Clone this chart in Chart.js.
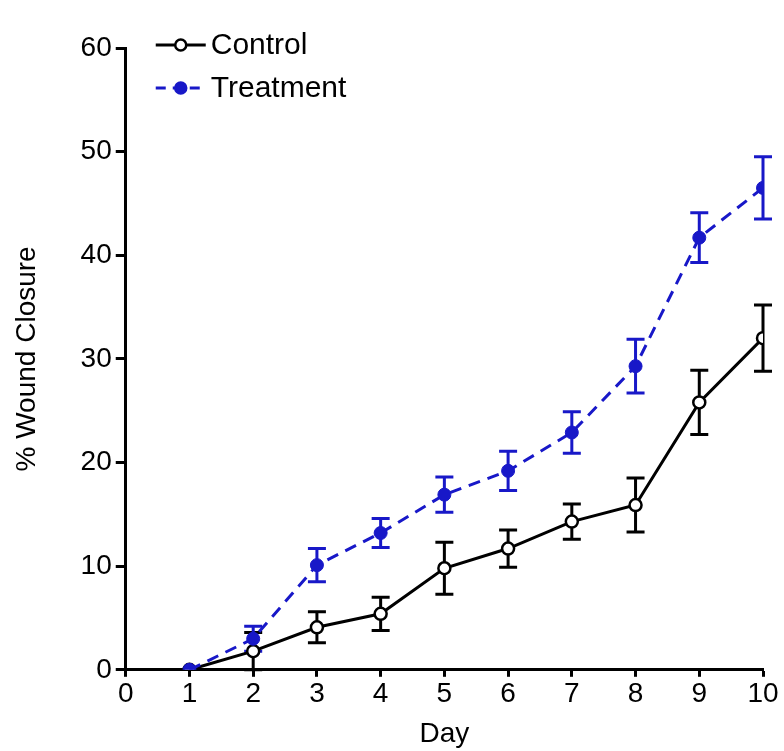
<!DOCTYPE html>
<html>
<head>
<meta charset="utf-8">
<script src="https://cdn.jsdelivr.net/npm/chart.js@4.4.0/dist/chart.umd.min.js"></script>
<style>
  html, body { margin: 0; padding: 0; background: #fff; }
  #wrap { width: 784px; height: 751px; }
</style>
</head>
<body>
<div id="wrap"><canvas id="myChart"></canvas></div>
<script>
// data
var days = [1, 2, 3, 4, 5, 6, 7, 8, 9, 10];
var controlMean = [0, 1.8, 4.1, 5.4, 9.8, 11.7, 14.3, 15.9, 25.8, 32.0];
var controlErr = [0, 1.8, 1.5, 1.6, 2.5, 1.8, 1.7, 2.6, 3.1, 3.2];
var treatMean = [0, 3.0, 10.1, 13.2, 16.9, 19.2, 22.9, 29.3, 41.7, 46.5];
var treatErr = [0, 1.2, 1.6, 1.4, 1.7, 1.9, 2.0, 2.6, 2.4, 3.0];
var xTicks = [0, 1, 2, 3, 4, 5, 6, 7, 8, 9, 10];
var yTicks = [0, 10, 20, 30, 40, 50, 60];

var blue = '#1818c8';
var fontName = '"Liberation Sans", Arial, sans-serif';

function toPoints(mean) {
    return days.map(function (d, i) { return { x: d, y: mean[i] }; });
}

// error bars drawn with the chart's own scales
var errorBars = {
    id: 'errorBars',
    beforeDatasetsDraw: function (chart) {
        var ctx = chart.ctx;
        var xs = chart.scales.x, ys = chart.scales.y;
        chart.data.datasets.forEach(function (ds) {
            ctx.save();
            ctx.strokeStyle = ds.borderColor;
            ctx.lineWidth = 3;
            ds.errors.forEach(function (e, i) {
                if (!e) return;
                var px = xs.getPixelForValue(ds.data[i].x);
                var top = ys.getPixelForValue(ds.data[i].y + e);
                var bot = ys.getPixelForValue(ds.data[i].y - e);
                ctx.beginPath();
                ctx.moveTo(px, top); ctx.lineTo(px, bot);
                ctx.moveTo(px - 9, top); ctx.lineTo(px + 9, top);
                ctx.moveTo(px - 9, bot); ctx.lineTo(px + 9, bot);
                ctx.stroke();
            });
            ctx.restore();
        });
    }
};

// legend in the top-left corner of the plot, line + marker + label
var insideLegend = {
    id: 'insideLegend',
    afterDraw: function (chart) {
        var ctx = chart.ctx;
        var x0 = chart.chartArea.left + 30;
        var y0 = chart.chartArea.top - 3;
        ctx.save();
        ctx.font = '30px ' + fontName;
        ctx.textBaseline = 'middle';
        chart.data.datasets.forEach(function (ds, i) {
            var y = y0 + i * 43;
            ctx.strokeStyle = ds.borderColor;
            ctx.lineWidth = 3;
            ctx.setLineDash(ds.borderDash ? [10, 7] : []);
            ctx.beginPath();
            ctx.moveTo(x0, y); ctx.lineTo(x0 + 50, y);
            ctx.stroke();
            ctx.setLineDash([]);
            ctx.beginPath();
            ctx.arc(x0 + 25, y, 5.5, 0, Math.PI * 2);
            ctx.fillStyle = ds.pointBackgroundColor;
            ctx.fill();
            ctx.lineWidth = 2.5;
            ctx.stroke();
            ctx.fillStyle = '#000';
            ctx.fillText(ds.label, x0 + 55, y + 1);
        });
        ctx.restore();
    }
};

const myChart = document.getElementById('myChart');
new Chart(myChart, {
    type: 'line',
    data: {
        datasets: [{
            label: 'Control',
            data: toPoints(controlMean),
            errors: controlErr,
            borderColor: '#000',
            borderWidth: 3,
            pointRadius: 6,
            pointBorderWidth: 2.5,
            pointBackgroundColor: '#fff',
            pointBorderColor: '#000',
            order: 2
        }, {
            label: 'Treatment',
            data: toPoints(treatMean),
            errors: treatErr,
            borderColor: blue,
            borderWidth: 3,
            borderDash: [12, 8],
            pointRadius: 6.5,
            pointBorderWidth: 1,
            pointBackgroundColor: blue,
            pointBorderColor: blue,
            order: 1
        }]
    },
    options: {
        responsive: true,
        maintainAspectRatio: false,
        animation: false,
        layout: { padding: { left: 10, right: 21, top: 48, bottom: 0 } },
        plugins: {
            legend: { display: false },
            tooltip: { enabled: false }
        },
        scales: {
            x: {
                type: 'linear',
                min: 0,
                max: 10,
                afterBuildTicks: function (axis) {
                    axis.ticks = xTicks.map(function (v) { return { value: v }; });
                },
                border: { color: '#000', width: 3 },
                grid: { drawOnChartArea: false, tickLength: 7, tickWidth: 3, tickColor: '#000' },
                ticks: { color: '#000', font: { family: fontName, size: 28 }, padding: 1, maxRotation: 0 },
                title: { display: true, text: 'Day', color: '#000', font: { family: fontName, size: 28 }, padding: { top: 5, bottom: 0 } }
            },
            y: {
                min: 0,
                max: 60,
                afterBuildTicks: function (axis) {
                    axis.ticks = yTicks.map(function (v) { return { value: v }; });
                },
                border: { color: '#000', width: 3 },
                grid: { drawOnChartArea: false, tickLength: 10, tickWidth: 3, tickColor: '#000' },
                ticks: { color: '#000', font: { family: fontName, size: 28 }, padding: 4 },
                title: { display: true, text: '% Wound Closure', color: '#000', font: { family: fontName, size: 28 }, padding: { top: 0, bottom: 33 } }
            }
        }
    },
    plugins: [errorBars, insideLegend]
});
</script>
</body>
</html>
